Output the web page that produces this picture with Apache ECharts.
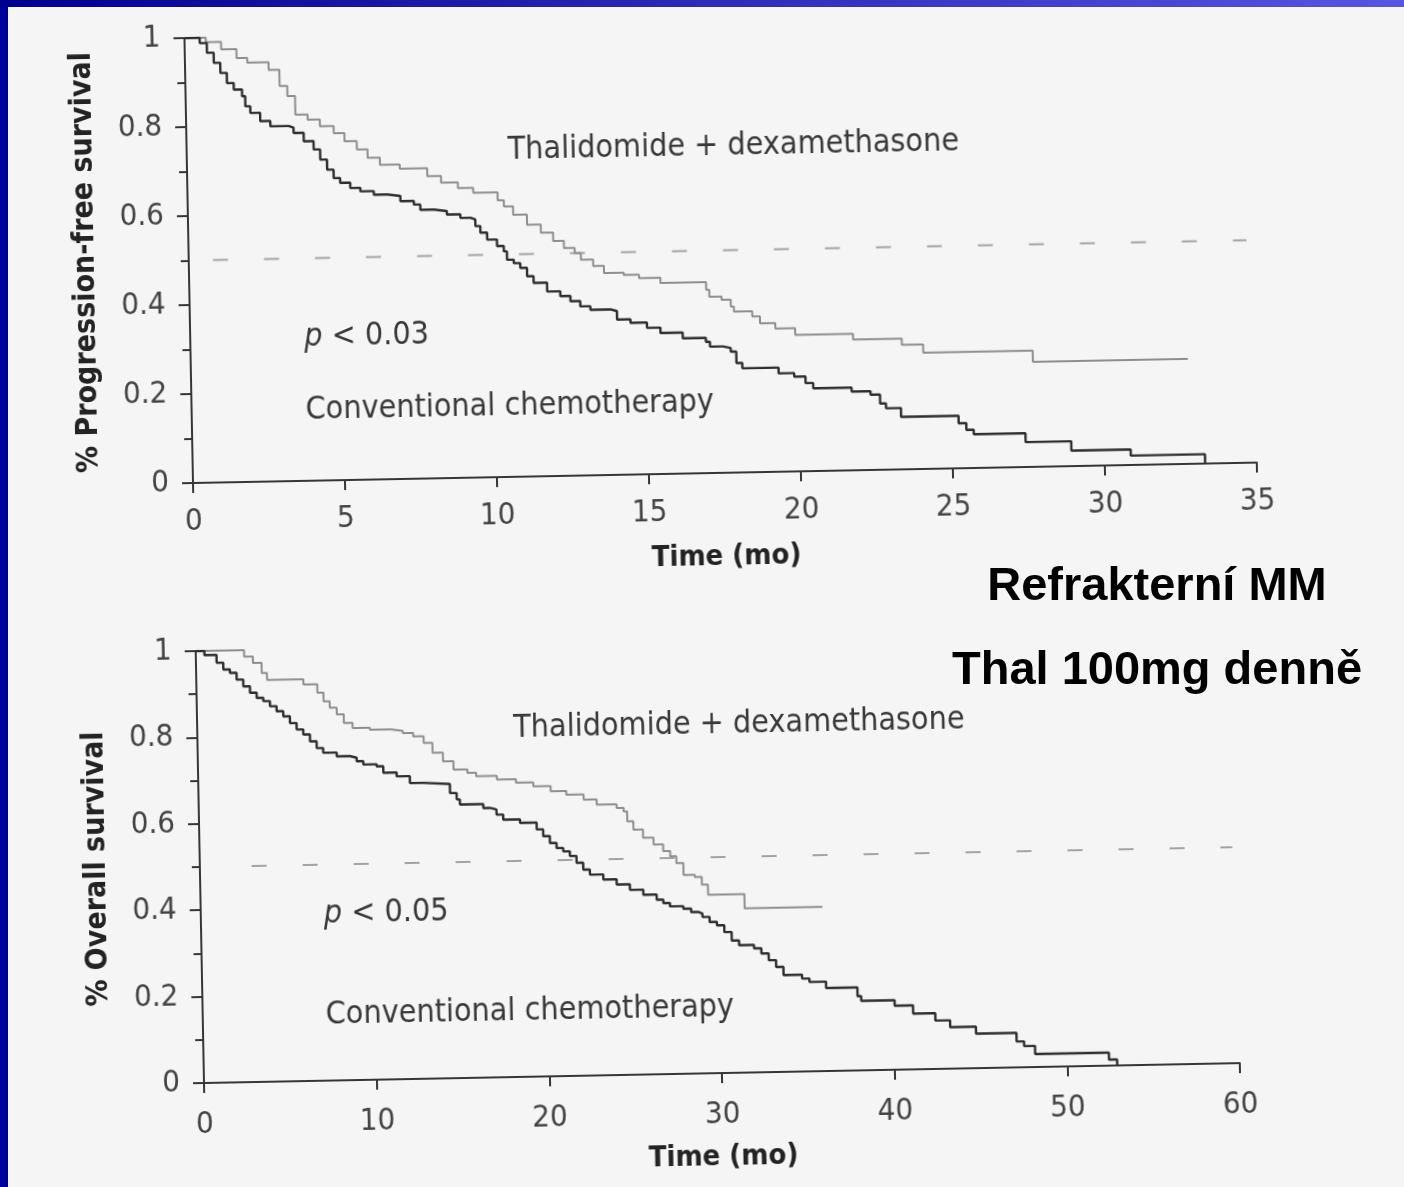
<!DOCTYPE html>
<html>
<head>
<meta charset="utf-8">
<script src="https://cdn.jsdelivr.net/npm/echarts@6/dist/echarts.min.js"></script>
<style>
  html, body { margin: 0; padding: 0; width: 1404px; height: 1187px; overflow: hidden; background: #f5f5f5; }
  .layer { position: absolute; left: 0; top: 0; width: 1404px; height: 1187px; }
  /* the page is a slightly tilted scan, so both plots are turned round their origin */
  #pfs { transform-origin: 193px 483px; transform: rotate(-1.1deg); }
  #os { transform-origin: 204px 1083px; transform: rotate(-1.1deg); }
</style>
</head>
<body>
<div id="page" class="layer"></div>
<div id="pfs" class="layer"></div>
<div id="os" class="layer"></div>
<script>
// progression-free survival (months, fraction)
var pfsThalMonths = [0, 0.7, 1.2, 1.7, 2.05, 2.75, 3.1, 3.35, 3.6, 4.0, 4.4, 4.85, 5.2, 5.6, 5.95, 6.35, 7.0, 7.9, 8.35, 8.9, 9.4, 10.2, 10.4, 10.7, 11.15, 11.6, 12.0, 12.35, 12.7, 12.9, 13.3, 13.65, 14.3, 14.8, 15.5, 17.0, 17.1, 17.5, 17.8, 17.9, 18.5, 18.75, 19.25, 19.9, 21.8, 23.4, 24.1, 27.7, 32.8]
var pfsThalSurv = [1, 0.99, 0.973, 0.953, 0.942, 0.925, 0.888, 0.865, 0.823, 0.811, 0.796, 0.78, 0.761, 0.742, 0.723, 0.707, 0.697, 0.679, 0.664, 0.651, 0.64, 0.622, 0.608, 0.589, 0.566, 0.547, 0.528, 0.512, 0.5, 0.485, 0.47, 0.454, 0.449, 0.441, 0.429, 0.412, 0.396, 0.389, 0.373, 0.362, 0.35, 0.334, 0.322, 0.307, 0.294, 0.28, 0.261, 0.236, 0.236]

var pfsChemoMonths = [0, 0.5, 0.73, 0.95, 1.16, 1.37, 1.59, 1.86, 1.96, 2.12, 2.44, 2.77, 3.37, 3.53, 3.86, 4.18, 4.39, 4.61, 4.82, 5.03, 5.36, 5.69, 6.13, 6.56, 7.0, 7.44, 7.65, 8.09, 8.52, 8.96, 9.29, 9.45, 9.61, 9.83, 10.15, 10.37, 10.47, 10.69, 10.9, 11.12, 11.33, 11.77, 12.2, 12.53, 12.85, 13.18, 13.84, 14.05, 14.49, 15.03, 15.47, 16.2, 16.96, 17.09, 17.52, 17.77, 17.95, 18.14, 19.33, 19.84, 20.21, 20.46, 21.72, 22.34, 22.65, 22.84, 23.33, 25.22, 25.47, 25.71, 27.41, 28.91, 30.86, 33.3]
var pfsChemoSurv = [1, 0.988, 0.966, 0.943, 0.92, 0.897, 0.882, 0.867, 0.844, 0.829, 0.81, 0.798, 0.794, 0.782, 0.763, 0.744, 0.721, 0.698, 0.679, 0.668, 0.656, 0.648, 0.64, 0.636, 0.624, 0.616, 0.604, 0.6, 0.592, 0.584, 0.58, 0.565, 0.55, 0.534, 0.519, 0.507, 0.488, 0.48, 0.469, 0.45, 0.435, 0.415, 0.404, 0.392, 0.38, 0.372, 0.368, 0.349, 0.341, 0.329, 0.317, 0.304, 0.295, 0.284, 0.28, 0.272, 0.246, 0.234, 0.221, 0.213, 0.198, 0.186, 0.177, 0.169, 0.149, 0.138, 0.118, 0.101, 0.086, 0.076, 0.056, 0.035, 0.021, 0]

// overall survival
var osThalMonths = [0, 2.4, 2.8, 3.3, 3.8, 4.1, 6.2, 7.0, 7.35, 7.7, 8.1, 8.5, 9.0, 10.0, 11.2, 11.9, 12.5, 13.1, 13.6, 14.2, 14.8, 15.6, 16.1, 17.3, 18.4, 19.4, 20.4, 21.3, 22.3, 23.05, 24.2, 24.6, 24.8, 25.15, 25.7, 26.3, 26.85, 27.25, 27.6, 28.0, 28.65, 29.05, 29.4, 31.5, 36.0]
var osThalSurv = [1, 1, 0.985, 0.97, 0.946, 0.93, 0.918, 0.898, 0.878, 0.863, 0.847, 0.827, 0.815, 0.81, 0.806, 0.801, 0.793, 0.777, 0.754, 0.734, 0.714, 0.706, 0.698, 0.689, 0.681, 0.672, 0.66, 0.651, 0.639, 0.627, 0.618, 0.61, 0.587, 0.567, 0.548, 0.532, 0.516, 0.504, 0.488, 0.46, 0.455, 0.437, 0.413, 0.38, 0.38]

var osChemoMonths = [0, 0.5, 1.2, 1.58, 1.96, 2.34, 2.72, 3.1, 3.48, 3.86, 4.24, 4.62, 5.0, 5.38, 5.76, 6.14, 6.52, 6.9, 7.27, 8.05, 8.82, 9.2, 9.58, 10.35, 10.73, 11.5, 12.26, 13.03, 14.57, 14.95, 15.13, 16.48, 16.86, 17.24, 17.62, 18.59, 19.55, 19.92, 20.3, 20.68, 21.06, 21.44, 21.82, 22.2, 22.58, 23.35, 24.12, 24.88, 25.65, 26.42, 26.8, 27.18, 27.95, 28.4, 28.8, 29.05, 29.46, 29.88, 30.3, 30.72, 31.14, 32.0, 32.42, 32.84, 33.26, 33.68, 34.75, 35.17, 36.13, 37.94, 38.15, 40.08, 41.14, 42.42, 43.27, 44.76, 47.1, 47.53, 48.16, 52.43, 52.9]
var osChemoSurv = [1, 0.99, 0.972, 0.956, 0.948, 0.932, 0.916, 0.901, 0.889, 0.881, 0.869, 0.857, 0.845, 0.829, 0.814, 0.802, 0.786, 0.77, 0.759, 0.75, 0.746, 0.738, 0.73, 0.725, 0.71, 0.701, 0.685, 0.681, 0.66, 0.645, 0.633, 0.624, 0.62, 0.608, 0.596, 0.588, 0.572, 0.556, 0.54, 0.528, 0.52, 0.509, 0.493, 0.477, 0.465, 0.453, 0.441, 0.428, 0.416, 0.404, 0.396, 0.388, 0.382, 0.374, 0.37, 0.362, 0.35, 0.342, 0.326, 0.306, 0.295, 0.287, 0.275, 0.259, 0.243, 0.224, 0.215, 0.207, 0.192, 0.172, 0.161, 0.148, 0.129, 0.112, 0.096, 0.08, 0.06, 0.049, 0.03, 0.014, 0]

// dashed median reference line: [from month, to month] at 0.5
var pfsMedianSpan = [0.8, 34.8]
var osMedianSpan = [3.0, 59.8]
var medianLevel = 0.5

var pfsXTicks = { max: 35, step: 5 }
var osXTicks = { max: 60, step: 10 }

var COND = "'DejaVu Sans Condensed', 'Liberation Sans Narrow', 'DejaVu Sans', sans-serif"
var ARIAL = "'Liberation Sans', Arial, sans-serif"

function pairs(xs, ys) {
  return xs.map(function (x, i) { return [x, ys[i]] })
}

function note(x, y, text, rich) {
  return {
    type: 'text', x: x, y: y,
    style: {
      text: text, align: 'left', verticalAlign: 'middle',
      font: '32px ' + COND, fill: '#383838', rich: rich
    }
  }
}

var pRich = {
  i: { fontStyle: 'italic', fontSize: 32, fontFamily: COND, fill: '#383838' },
  n: { fontSize: 32, fontFamily: COND, fill: '#383838' }
}

function plotOption(cfg) {
  return {
    animation: false,
    backgroundColor: 'transparent',
    grid: cfg.grid,
    xAxis: {
      type: 'value', min: 0, max: cfg.xTicks.max, interval: cfg.xTicks.step,
      name: 'Time (mo)', nameLocation: 'middle', nameGap: cfg.xNameGap,
      nameTextStyle: { fontFamily: COND, fontWeight: 'bold', fontSize: 29, color: '#232323' },
      axisLine: { lineStyle: { color: '#363636', width: 2 } },
      axisTick: { length: 10, lineStyle: { color: '#363636', width: 2 } },
      axisLabel: { margin: cfg.xLabelMargin, fontFamily: COND, fontSize: 31, color: '#434343' },
      splitLine: { show: false }
    },
    yAxis: {
      type: 'value', min: 0, max: 1, interval: 0.2,
      name: cfg.yName, nameLocation: 'middle', nameRotate: 90, nameGap: 88,
      nameTextStyle: { fontFamily: COND, fontWeight: 'bold', fontSize: 30, color: '#232323' },
      axisLine: { show: true, lineStyle: { color: '#363636', width: 2 } },
      axisTick: { show: true, length: 11, lineStyle: { color: '#363636', width: 2 } },
      minorTick: { show: true, splitNumber: 2, length: 8, lineStyle: { color: '#363636', width: 2 } },
      axisLabel: {
        margin: 24, fontFamily: COND, fontSize: 31, color: '#434343',
        formatter: function (v) { return (v === 0 || v === 1) ? String(v) : v.toFixed(1) }
      },
      splitLine: { show: false }
    },
    series: [
      {
        type: 'line', data: [[cfg.median[0], medianLevel], [cfg.median[1], medianLevel]],
        symbol: 'none', silent: true,
        lineStyle: { color: '#a3a3a3', width: 2.2, type: [15, 36] }
      },
      {
        name: 'Thalidomide + dexamethasone', type: 'line', step: 'end', data: cfg.thal,
        symbol: 'none', lineStyle: { color: '#8e8e8e', width: 2 }
      },
      {
        name: 'Conventional chemotherapy', type: 'line', step: 'end', data: cfg.chemo,
        symbol: 'none', lineStyle: { color: '#2e2e2e', width: 2.4 }
      }
    ],
    graphic: cfg.notes
  }
}

var pageChart = echarts.init(document.getElementById('page'))
pageChart.setOption({
  animation: false,
  backgroundColor: '#f5f5f5',
  graphic: [
    { type: 'rect', shape: { x: 0, y: 0, width: 8, height: 1187 }, style: { fill: '#00009a' } },
    {
      type: 'rect', shape: { x: 0, y: 0, width: 1404, height: 7 },
      style: { fill: new echarts.graphic.LinearGradient(0, 0, 1, 0, [
        { offset: 0, color: '#00008e' }, { offset: 1, color: '#5656de' }]) }
    },
    {
      type: 'text', x: 1157, y: 587,
      style: { text: 'Refrakterní MM', align: 'center', verticalAlign: 'middle', font: 'bold 47px ' + ARIAL, fill: '#000' }
    },
    {
      type: 'text', x: 1157, y: 671,
      style: { text: 'Thal 100mg denně', align: 'center', verticalAlign: 'middle', font: 'bold 47px ' + ARIAL, fill: '#000' }
    }
  ]
})

var pfsChart = echarts.init(document.getElementById('pfs'))
pfsChart.setOption(plotOption({
  grid: { left: 193, top: 38, width: 1064, height: 445 },
  xTicks: pfsXTicks, xNameGap: 70, xLabelMargin: 23,
  yName: '% Progression-free survival',
  median: pfsMedianSpan,
  thal: pairs(pfsThalMonths, pfsThalSurv),
  chemo: pairs(pfsChemoMonths, pfsChemoSurv),
  notes: [
    note(514, 157, 'Thalidomide + dexamethasone'),
    note(307, 340, '{i|p}{n| < 0.03}', pRich),
    note(307, 413, 'Conventional chemotherapy')
  ]
}))

var osChart = echarts.init(document.getElementById('os'))
osChart.setOption(plotOption({
  grid: { left: 204, top: 651, width: 1036, height: 432 },
  xTicks: osXTicks, xNameGap: 70, xLabelMargin: 26,
  yName: '% Overall survival',
  median: osMedianSpan,
  thal: pairs(osThalMonths, osThalSurv),
  chemo: pairs(osChemoMonths, osChemoSurv),
  notes: [
    note(520, 735, 'Thalidomide + dexamethasone'),
    note(327, 917, '{i|p}{n| < 0.05}', pRich),
    note(327, 1018, 'Conventional chemotherapy')
  ]
}))
</script>
</body>
</html>
